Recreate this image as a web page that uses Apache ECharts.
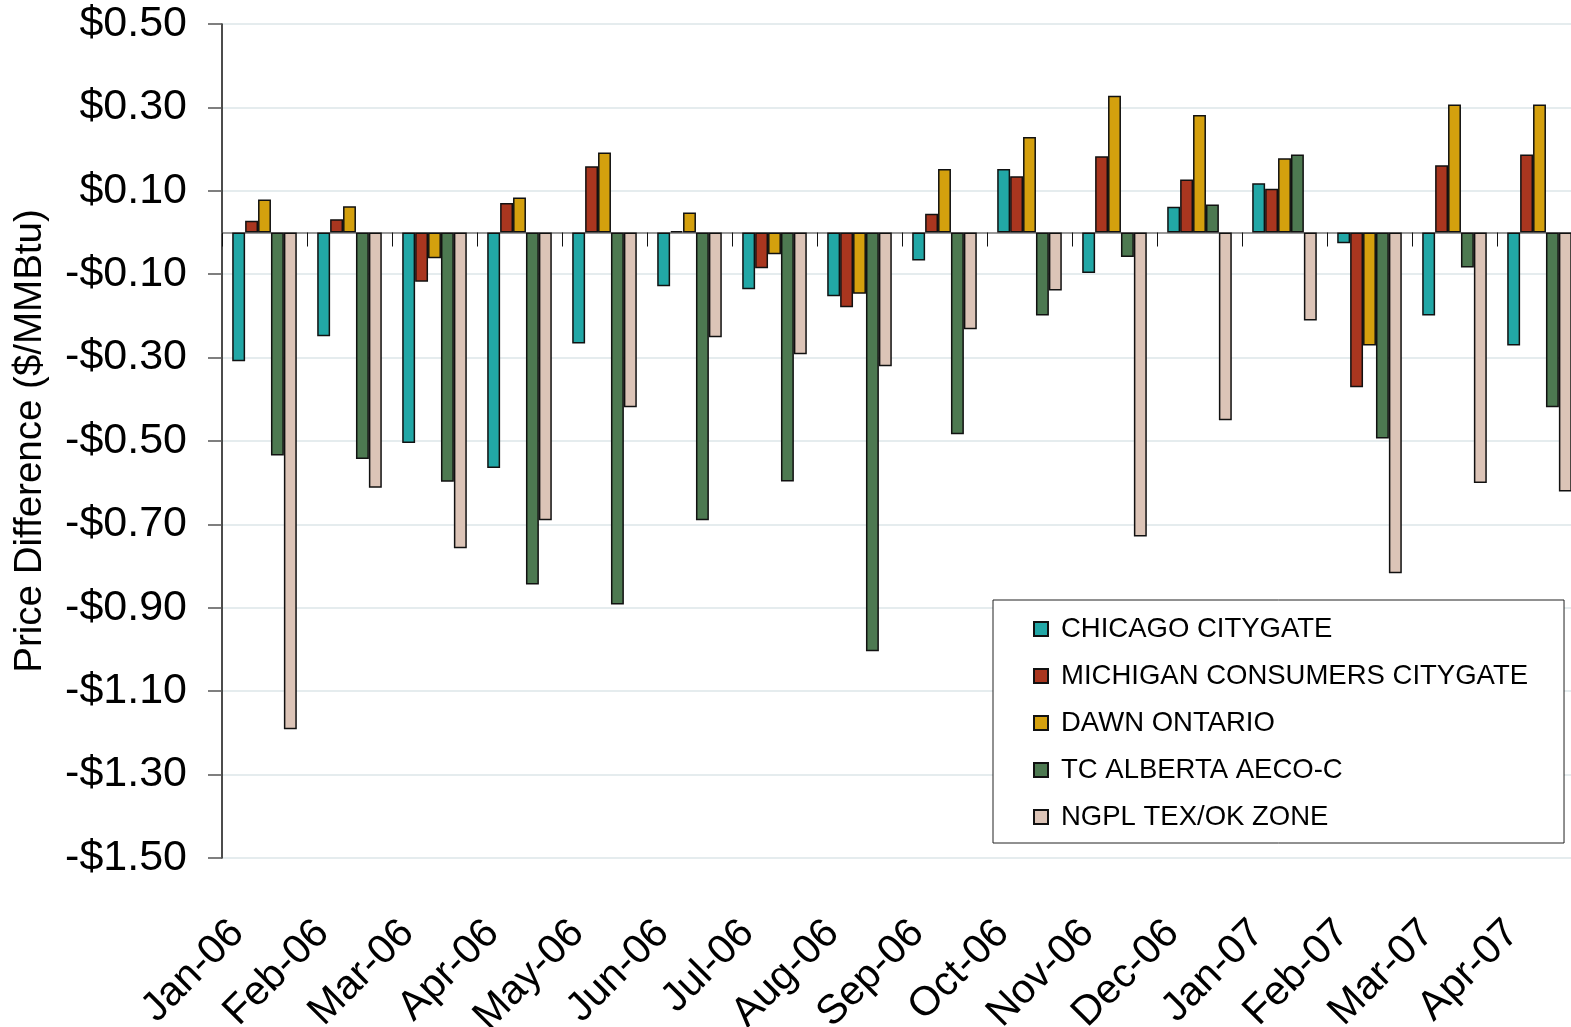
<!DOCTYPE html>
<html>
<head>
<meta charset="utf-8">
<script src="https://cdn.jsdelivr.net/npm/echarts@6/dist/echarts.min.js"></script>
<style>
  html, body { margin: 0; padding: 0; background: #fff; }
  #chart { width: 1571px; height: 1027px; }
</style>
</head>
<body>
<div id="chart"></div>
<script>
// months on the x axis
const months = ['Jan-06', 'Feb-06', 'Mar-06', 'Apr-06', 'May-06', 'Jun-06', 'Jul-06', 'Aug-06',
  'Sep-06', 'Oct-06', 'Nov-06', 'Dec-06', 'Jan-07', 'Feb-07', 'Mar-07', 'Apr-07']

// price differences, $/MMBtu
const chicago = [-0.309, -0.249, -0.505, -0.565, -0.266, -0.129, -0.136, -0.153, -0.067, 0.152, -0.097, 0.062, 0.118, -0.026, -0.199, -0.271]
const michigan = [0.028, 0.032, -0.118, 0.071, 0.159, 0.003, -0.086, -0.179, 0.045, 0.135, 0.183, 0.127, 0.105, -0.371, 0.161, 0.187]
const dawn = [0.079, 0.063, -0.062, 0.084, 0.192, 0.048, -0.052, -0.147, 0.152, 0.229, 0.328, 0.282, 0.178, -0.271, 0.307, 0.307]
const alberta = [-0.535, -0.543, -0.598, -0.844, -0.892, -0.690, -0.597, -1.004, -0.484, -0.199, -0.059, 0.067, 0.187, -0.494, -0.084, -0.419]
const ngpl = [-1.191, -0.612, -0.757, -0.690, -0.419, -0.251, -0.292, -0.321, -0.232, -0.139, -0.729, -0.450, -0.211, -0.817, -0.601, -0.621]

// y axis range and step
const yMin = -1.5
const yMax = 0.5
const yStep = 0.2

const font = 'Liberation Sans, Arial, sans-serif'

const chart = echarts.init(document.getElementById('chart'))

function bar (name, data, color) {
  return {
    name,
    type: 'bar',
    data,
    barGap: 0,
    barCategoryGap: '24%',
    itemStyle: {
      color,
      borderColor: '#111',
      borderWidth: 1.5
    }
  }
}

const option = {
  animation: false,
  grid: {
    left: 222,
    right: -11,
    top: 24,
    bottom: 169,
    outerBoundsMode: 'none'
  },
  legend: {
    orient: 'vertical',
    left: 993,
    top: 600,
    padding: [15, 36, 12, 40],
    itemGap: 19,
    itemWidth: 14,
    itemHeight: 14,
    icon: 'rect',
    borderColor: '#222',
    borderWidth: 1,
    backgroundColor: '#fff',
    textStyle: {
      fontFamily: font,
      fontSize: 27.5,
      color: '#000',
      padding: [0, 0, 0, 8]
    }
  },
  xAxis: [{
    type: 'category',
    data: months,
    axisLine: {
      onZero: true,
      lineStyle: { color: '#777', width: 1.5 }
    },
    axisTick: {
      show: true,
      length: 14,
      lineStyle: { color: '#111', width: 1 }
    },
    axisLabel: { show: false },
    splitLine: { show: false }
  }, {
    type: 'category',
    data: months,
    position: 'bottom',
    axisLine: { show: false, onZero: false },
    axisTick: { show: false },
    axisLabel: {
      rotate: 45,
      margin: 42,
      padding: [0, 38, 0, 0],
      fontFamily: font,
      fontSize: 41,
      color: '#000'
    },
    splitLine: { show: false }
  }],
  yAxis: {
    type: 'value',
    min: yMin,
    max: yMax,
    interval: yStep,
    name: 'Price Difference ($/MMBtu)',
    nameLocation: 'middle',
    nameGap: 172,
    nameTextStyle: {
      fontFamily: font,
      fontSize: 38.5,
      color: '#000'
    },
    axisLine: {
      show: true,
      onZero: false,
      lineStyle: { color: '#111', width: 1.5 }
    },
    axisTick: {
      show: true,
      length: 14,
      lineStyle: { color: '#555', width: 1.5 }
    },
    axisLabel: {
      margin: 35,
      fontFamily: font,
      fontSize: 43,
      color: '#000',
      formatter: v => (v < 0 ? '-' : '') + '$' + Math.abs(v).toFixed(2)
    },
    splitLine: {
      show: true,
      lineStyle: { color: '#dde6e8', width: 1.5 }
    }
  },
  series: [
    bar('CHICAGO CITYGATE', chicago, '#22a7a6'),
    bar('MICHIGAN CONSUMERS CITYGATE', michigan, '#a9361f'),
    bar('DAWN ONTARIO', dawn, '#d4a00e'),
    bar('TC ALBERTA AECO-C', alberta, '#4d7951'),
    bar('NGPL TEX/OK ZONE', ngpl, '#dcc4b7')
  ]
}

chart.setOption(option)
</script>
</body>
</html>
